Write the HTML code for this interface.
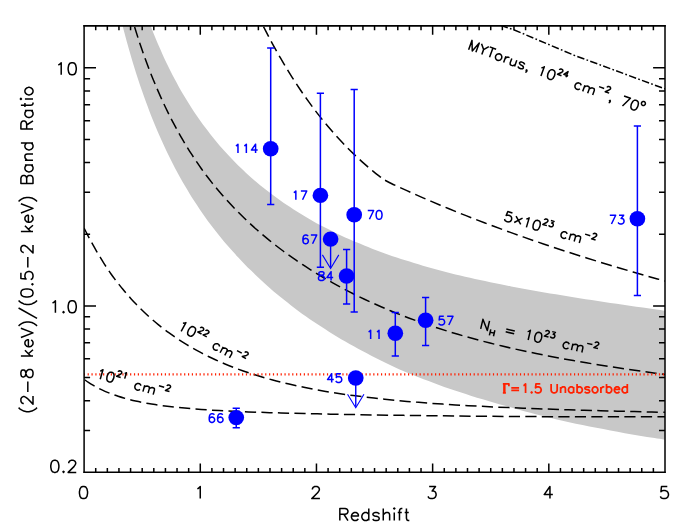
<!DOCTYPE html>
<html><head><meta charset="utf-8"><title>Band Ratio vs Redshift</title><style>html,body{margin:0;padding:0;background:#fff;font-family:"Liberation Sans",sans-serif}svg{display:block}</style></head><body>
<svg width="700" height="525" viewBox="0 0 700 525">
<rect width="700" height="525" fill="#fff"/>
<defs><clipPath id="cp"><rect x="84.10" y="25.90" width="580.90" height="446.40"/></clipPath><path id="g40" vector-effect="non-scaling-stroke" d="M11 7 L9 5 L7 2 L5 -2 L4 -7 L4 -11 L5 -16 L7 -20 L9 -23 L11 -25"/><path id="g41" vector-effect="non-scaling-stroke" d="M3 7 L5 5 L7 2 L9 -2 L10 -7 L10 -11 L9 -16 L7 -20 L5 -23 L3 -25"/><path id="g44" vector-effect="non-scaling-stroke" d="M4 4 L5 3 L6 1 L6 -1 L5 -2 L4 -1 L5 0 L6 -1"/><path id="g45" vector-effect="non-scaling-stroke" d="M4 -9 L22 -9"/><path id="g46" vector-effect="non-scaling-stroke" d="M6 -1 L5 0 L4 -1 L5 -2Z"/><path id="g47" vector-effect="non-scaling-stroke" d="M20 -25 L2 7"/><path id="g48" vector-effect="non-scaling-stroke" d="M6 -20 L4 -17 L3 -12 L3 -9 L4 -4 L6 -1 L9 0 L11 0 L14 -1 L16 -4 L17 -9 L17 -12 L16 -17 L14 -20 L11 -21 L9 -21Z"/><path id="g49" vector-effect="non-scaling-stroke" d="M11 0 L11 -21 L8 -18 L6 -17"/><path id="g50" vector-effect="non-scaling-stroke" d="M4 -16 L4 -17 L5 -19 L6 -20 L8 -21 L12 -21 L14 -20 L15 -19 L16 -17 L16 -15 L15 -13 L13 -10 L3 0 L17 0"/><path id="g51" vector-effect="non-scaling-stroke" d="M3 -4 L4 -2 L5 -1 L8 0 L11 0 L14 -1 L16 -3 L17 -6 L17 -8 L16 -11 L15 -12 L13 -13 L10 -13 L16 -21 L5 -21"/><path id="g52" vector-effect="non-scaling-stroke" d="M18 -7 L3 -7 L13 -21 L13 0"/><path id="g53" vector-effect="non-scaling-stroke" d="M3 -4 L4 -2 L5 -1 L8 0 L11 0 L14 -1 L16 -3 L17 -6 L17 -8 L16 -11 L14 -13 L11 -14 L8 -14 L5 -13 L4 -12 L5 -21 L15 -21"/><path id="g54" vector-effect="non-scaling-stroke" d="M16 -18 L15 -20 L12 -21 L10 -21 L7 -20 L5 -17 L4 -12 L4 -7 L5 -10 L7 -12 L10 -13 L11 -13 L14 -12 L16 -10 L17 -7 L17 -6 L16 -3 L14 -1 L11 0 L10 0 L7 -1 L5 -3 L4 -7"/><path id="g55" vector-effect="non-scaling-stroke" d="M3 -21 L17 -21 L7 0"/><path id="g56" vector-effect="non-scaling-stroke" d="M9 -12 L6 -11 L4 -9 L3 -7 L3 -4 L4 -2 L5 -1 L8 0 L12 0 L15 -1 L16 -2 L17 -4 L17 -7 L16 -9 L14 -11 L11 -12 L7 -13 L5 -14 L4 -16 L4 -18 L5 -20 L8 -21 L12 -21 L15 -20 L16 -18 L16 -16 L15 -14 L13 -13Z"/><path id="g61" vector-effect="non-scaling-stroke" d="M4 -12 L22 -12M4 -6 L22 -6"/><path id="g66" vector-effect="non-scaling-stroke" d="M4 -11 L13 -11 L16 -12 L17 -13 L18 -15 L18 -17 L17 -19 L16 -20 L13 -21 L4 -21 L4 0 L13 0 L16 -1 L17 -2 L18 -4 L18 -7 L17 -9 L16 -10 L13 -11"/><path id="g72" vector-effect="non-scaling-stroke" d="M18 -21 L18 0M4 -11 L18 -11M4 -21 L4 0"/><path id="g77" vector-effect="non-scaling-stroke" d="M4 0 L4 -21 L12 0 L20 -21 L20 0"/><path id="g78" vector-effect="non-scaling-stroke" d="M18 -21 L18 0 L4 -21 L4 0"/><path id="g82" vector-effect="non-scaling-stroke" d="M4 0 L4 -21 L13 -21 L16 -20 L17 -19 L18 -17 L18 -15 L17 -13 L16 -12 L13 -11 L4 -11M11 -11 L18 0"/><path id="g84" vector-effect="non-scaling-stroke" d="M1 -21 L15 -21M8 -21 L8 0"/><path id="g85" vector-effect="non-scaling-stroke" d="M18 -21 L18 -6 L17 -3 L15 -1 L12 0 L10 0 L7 -1 L5 -3 L4 -6 L4 -21"/><path id="g86" vector-effect="non-scaling-stroke" d="M17 -21 L9 0 L1 -21"/><path id="g89" vector-effect="non-scaling-stroke" d="M1 -21 L9 -11 L17 -21M9 -11 L9 0"/><path id="g97" vector-effect="non-scaling-stroke" d="M15 -3 L13 -1 L11 0 L8 0 L6 -1 L4 -3 L3 -6 L3 -8 L4 -11 L6 -13 L8 -14 L11 -14 L13 -13 L15 -11M15 -14 L15 0"/><path id="g98" vector-effect="non-scaling-stroke" d="M4 -21 L4 0M4 -3 L6 -1 L8 0 L11 0 L13 -1 L15 -3 L16 -6 L16 -8 L15 -11 L13 -13 L11 -14 L8 -14 L6 -13 L4 -11"/><path id="g99" vector-effect="non-scaling-stroke" d="M15 -11 L13 -13 L11 -14 L8 -14 L6 -13 L4 -11 L3 -8 L3 -6 L4 -3 L6 -1 L8 0 L11 0 L13 -1 L15 -3"/><path id="g100" vector-effect="non-scaling-stroke" d="M15 -21 L15 0M15 -3 L13 -1 L11 0 L8 0 L6 -1 L4 -3 L3 -6 L3 -8 L4 -11 L6 -13 L8 -14 L11 -14 L13 -13 L15 -11"/><path id="g101" vector-effect="non-scaling-stroke" d="M15 -3 L13 -1 L11 0 L8 0 L6 -1 L4 -3 L3 -6 L3 -8 L4 -11 L6 -13 L8 -14 L11 -14 L13 -13 L14 -12 L15 -10 L15 -8 L3 -8"/><path id="g102" vector-effect="non-scaling-stroke" d="M10 -21 L8 -21 L6 -20 L5 -17 L5 0M2 -14 L9 -14"/><path id="g104" vector-effect="non-scaling-stroke" d="M4 -21 L4 0M4 -10 L7 -13 L9 -14 L12 -14 L14 -13 L15 -10 L15 0"/><path id="g105" vector-effect="non-scaling-stroke" d="M4 -14 L4 0M4 -22 L3 -21 L4 -20 L5 -21Z"/><path id="g107" vector-effect="non-scaling-stroke" d="M4 -21 L4 0M14 -14 L4 -4M8 -8 L15 0"/><path id="g109" vector-effect="non-scaling-stroke" d="M26 0 L26 -10 L25 -13 L23 -14 L20 -14 L18 -13 L15 -10 L14 -13 L12 -14 L9 -14 L7 -13 L4 -10M15 -10 L15 0M4 -14 L4 0"/><path id="g110" vector-effect="non-scaling-stroke" d="M4 -10 L7 -13 L9 -14 L12 -14 L14 -13 L15 -10 L15 0M4 -14 L4 0"/><path id="g111" vector-effect="non-scaling-stroke" d="M8 -14 L11 -14 L13 -13 L15 -11 L16 -8 L16 -6 L15 -3 L13 -1 L11 0 L8 0 L6 -1 L4 -3 L3 -6 L3 -8 L4 -11 L6 -13Z"/><path id="g114" vector-effect="non-scaling-stroke" d="M4 -8 L5 -11 L7 -13 L9 -14 L12 -14M4 -14 L4 0"/><path id="g115" vector-effect="non-scaling-stroke" d="M3 -3 L4 -1 L7 0 L10 0 L13 -1 L14 -3 L14 -4 L13 -6 L11 -7 L6 -8 L4 -9 L3 -11 L4 -13 L7 -14 L10 -14 L13 -13 L14 -11"/><path id="g116" vector-effect="non-scaling-stroke" d="M5 -21 L5 -4 L6 -1 L8 0 L10 0M2 -14 L9 -14"/><path id="g117" vector-effect="non-scaling-stroke" d="M15 -4 L12 -1 L10 0 L7 0 L5 -1 L4 -4 L4 -14M15 -14 L15 0"/><path id="g215" vector-effect="non-scaling-stroke" d="M4 -16.6 L18 -2.6M18 -16.6 L4 -2.6"/><path id="g915" vector-effect="non-scaling-stroke" d="M1.5 -21 L15.5 -21 L15.5 -15.5M4.2 -21 L4.2 0M5.8 -21 L5.8 0M1.5 0 L8.5 0"/></defs>
<g clip-path="url(#cp)">
<path d="M148.00 18.73 C148.60 20.31 150.38 25.11 151.59 28.22 C152.79 31.34 154.01 34.39 155.24 37.40 C156.48 40.41 157.72 43.37 158.97 46.28 C160.23 49.20 161.50 52.06 162.78 54.88 C164.06 57.70 165.35 60.47 166.66 63.20 C167.97 65.93 169.29 68.61 170.62 71.25 C171.95 73.90 173.30 76.50 174.65 79.06 C176.01 81.62 177.39 84.15 178.77 86.63 C180.16 89.12 181.56 91.56 182.97 93.97 C184.38 96.39 185.81 98.76 187.25 101.10 C188.70 103.44 190.15 105.75 191.62 108.02 C193.09 110.29 194.58 112.53 196.08 114.74 C197.58 116.95 199.09 119.12 200.62 121.27 C202.15 123.41 203.70 125.53 205.26 127.61 C206.82 129.70 208.39 131.76 209.98 133.79 C211.57 135.82 213.18 137.82 214.80 139.79 C216.43 141.77 218.06 143.71 219.72 145.63 C221.37 147.56 223.05 149.45 224.73 151.32 C226.42 153.19 228.13 155.04 229.85 156.86 C231.57 158.68 233.31 160.48 235.06 162.26 C236.82 164.03 238.59 165.78 240.39 167.51 C242.18 169.24 243.98 170.95 245.81 172.64 C247.64 174.32 249.48 175.99 251.35 177.63 C253.21 179.27 255.09 180.89 256.99 182.49 C258.89 184.10 260.81 185.68 262.75 187.24 C264.69 188.80 266.64 190.34 268.62 191.86 C270.60 193.39 272.59 194.89 274.61 196.37 C276.62 197.86 278.66 199.32 280.71 200.77 C282.77 202.22 284.85 203.65 286.94 205.06 C289.04 206.47 291.16 207.86 293.30 209.24 C295.44 210.61 297.60 211.97 299.78 213.31 C301.96 214.65 304.16 215.97 306.39 217.28 C308.61 218.59 310.86 219.88 313.13 221.15 C315.40 222.42 317.69 223.68 320.00 224.92 C322.32 226.16 324.65 227.39 327.01 228.59 C329.37 229.80 331.76 231.00 334.17 232.17 C336.57 233.35 339.00 234.51 341.46 235.66 C343.91 236.80 346.39 237.93 348.90 239.05 C351.40 240.17 353.93 241.27 356.49 242.35 C359.04 243.44 361.62 244.51 364.22 245.56 C366.83 246.62 369.46 247.66 372.12 248.69 C374.77 249.72 377.46 250.73 380.17 251.73 C382.88 252.73 385.61 253.71 388.38 254.68 C391.14 255.66 393.93 256.61 396.75 257.56 C399.57 258.50 402.41 259.43 405.29 260.35 C408.16 261.27 411.07 262.17 414.00 263.07 C416.93 263.96 419.89 264.84 422.88 265.70 C425.87 266.57 428.89 267.42 431.94 268.27 C434.99 269.11 438.07 269.94 441.19 270.76 C444.30 271.58 447.44 272.39 450.61 273.18 C453.78 273.98 456.99 274.77 460.22 275.54 C463.46 276.32 466.73 277.08 470.03 277.83 C473.33 278.59 476.66 279.33 480.03 280.07 C483.39 280.80 486.79 281.53 490.23 282.25 C493.66 282.96 497.13 283.67 500.63 284.37 C504.13 285.07 507.67 285.76 511.24 286.45 C514.81 287.13 518.42 287.81 522.06 288.48 C525.70 289.15 529.38 289.81 533.09 290.47 C536.81 291.13 540.56 291.78 544.35 292.43 C548.14 293.08 551.96 293.72 555.83 294.36 C559.69 295.00 563.60 295.64 567.54 296.27 C571.48 296.90 575.46 297.53 579.48 298.16 C583.50 298.79 587.56 299.41 591.66 300.04 C595.76 300.67 599.90 301.29 604.08 301.92 C608.26 302.55 612.48 303.17 616.75 303.81 C621.01 304.44 625.32 305.07 629.67 305.70 C634.02 306.34 638.41 306.98 642.85 307.62 C647.29 308.27 651.77 308.92 656.29 309.57 C660.82 310.23 667.72 311.24 670.00 311.57 L670.00 440.54 C667.43 440.14 659.68 438.93 654.61 438.12 C649.53 437.31 644.52 436.51 639.55 435.69 C634.59 434.86 629.68 434.04 624.83 433.19 C619.97 432.34 615.17 431.47 610.42 430.58 C605.68 429.70 600.98 428.79 596.34 427.87 C591.69 426.95 587.10 426.01 582.56 425.06 C578.02 424.11 573.53 423.14 569.08 422.15 C564.64 421.16 560.25 420.16 555.90 419.13 C551.56 418.10 547.26 417.05 543.01 415.99 C538.76 414.93 534.56 413.86 530.40 412.76 C526.25 411.67 522.14 410.56 518.07 409.44 C514.00 408.31 509.98 407.15 506.01 406.02 C502.03 404.89 498.10 403.77 494.21 402.65 C490.32 401.53 486.48 400.45 482.67 399.32 C478.87 398.20 475.11 397.07 471.39 395.91 C467.67 394.74 463.99 393.54 460.35 392.33 C456.71 391.12 453.11 389.89 449.55 388.66 C445.99 387.42 442.47 386.16 438.99 384.89 C435.51 383.63 432.07 382.34 428.66 381.05 C425.26 379.77 421.89 378.49 418.56 377.19 C415.23 375.88 411.94 374.57 408.68 373.23 C405.42 371.90 402.20 370.58 399.02 369.16 C395.83 367.75 392.68 366.24 389.57 364.75 C386.45 363.27 383.37 361.77 380.32 360.27 C377.27 358.76 374.26 357.23 371.28 355.70 C368.30 354.16 365.35 352.61 362.44 351.05 C359.52 349.49 356.64 347.91 353.79 346.32 C350.94 344.73 348.12 343.13 345.33 341.51 C342.54 339.90 339.78 338.27 337.05 336.63 C334.32 334.98 331.63 333.33 328.96 331.66 C326.29 329.99 323.65 328.30 321.04 326.61 C318.43 324.91 315.85 323.19 313.30 321.47 C310.75 319.74 308.23 318.00 305.73 316.24 C303.23 314.48 300.76 312.71 298.32 310.90 C295.88 309.10 293.47 307.26 291.08 305.42 C288.69 303.57 286.33 301.72 283.99 299.84 C281.66 297.96 279.35 296.07 277.06 294.16 C274.78 292.25 272.52 290.32 270.29 288.38 C268.05 286.43 265.84 284.47 263.66 282.49 C261.47 280.51 259.31 278.51 257.17 276.49 C255.03 274.46 252.92 272.42 250.83 270.37 C248.74 268.31 246.67 266.25 244.63 264.15 C242.58 262.06 240.56 259.95 238.56 257.82 C236.56 255.68 234.58 253.53 232.63 251.35 C230.67 249.16 228.74 246.96 226.82 244.73 C224.91 242.50 223.02 240.25 221.15 237.97 C219.28 235.68 217.43 233.38 215.60 231.04 C213.76 228.71 211.96 226.34 210.16 223.95 C208.37 221.56 206.60 219.14 204.85 216.69 C203.10 214.23 201.37 211.76 199.66 209.23 C197.95 206.71 196.25 204.14 194.58 201.55 C192.90 198.95 191.25 196.32 189.61 193.65 C187.97 190.99 186.35 188.29 184.75 185.55 C183.15 182.80 181.56 180.03 179.99 177.21 C178.43 174.39 176.88 171.54 175.34 168.64 C173.81 165.74 172.30 162.80 170.80 159.82 C169.30 156.83 167.82 153.81 166.35 150.73 C164.88 147.66 163.43 144.54 162.00 141.37 C160.56 138.20 159.15 134.98 157.74 131.71 C156.34 128.44 154.95 125.12 153.58 121.74 C152.21 118.37 150.85 114.94 149.51 111.45 C148.17 107.97 146.84 104.43 145.53 100.82 C144.22 97.22 142.92 93.56 141.64 89.84 C140.35 86.11 139.08 82.33 137.83 78.47 C136.57 74.62 135.33 70.70 134.10 66.72 C132.87 62.73 131.66 58.68 130.46 54.55 C129.26 50.42 128.07 46.22 126.89 41.94 C125.72 37.67 124.56 33.32 123.41 28.88 C122.26 24.45 120.57 17.60 120.00 15.35Z" fill="#c8c8c8"/>
<g fill="none" stroke="#000" stroke-width="1.5" stroke-dasharray="11.2 5.3">
<path d="M131.00 14.74 C131.58 16.71 133.31 22.69 134.49 26.55 C135.66 30.41 136.85 34.20 138.05 37.91 C139.25 41.62 140.46 45.26 141.69 48.84 C142.91 52.41 144.15 55.91 145.40 59.35 C146.65 62.80 147.92 66.17 149.20 69.49 C150.48 72.81 151.77 76.06 153.07 79.26 C154.38 82.46 155.70 85.60 157.03 88.69 C158.37 91.79 159.71 94.82 161.08 97.83 C162.44 100.83 163.81 103.81 165.21 106.73 C166.60 109.64 168.00 112.51 169.42 115.34 C170.84 118.17 172.28 120.95 173.73 123.69 C175.18 126.43 176.65 129.13 178.13 131.78 C179.62 134.44 181.11 137.06 182.63 139.64 C184.14 142.23 185.67 144.77 187.22 147.28 C188.77 149.79 190.33 152.27 191.91 154.71 C193.49 157.15 195.08 159.56 196.70 161.94 C198.31 164.32 199.94 166.67 201.59 168.98 C203.24 171.29 204.90 173.57 206.58 175.80 C208.27 178.03 209.97 180.20 211.69 182.35 C213.41 184.51 215.14 186.64 216.90 188.74 C218.66 190.84 220.43 192.92 222.22 194.98 C224.02 197.03 225.83 199.06 227.66 201.07 C229.49 203.08 231.34 205.06 233.22 207.02 C235.09 208.98 236.98 210.92 238.89 212.84 C240.80 214.76 242.73 216.66 244.68 218.53 C246.63 220.41 248.61 222.27 250.60 224.11 C252.59 225.94 254.61 227.76 256.64 229.56 C258.68 231.36 260.74 233.14 262.82 234.90 C264.90 236.66 267.00 238.40 269.12 240.12 C271.25 241.85 273.39 243.55 275.56 245.24 C277.73 246.93 279.92 248.60 282.14 250.25 C284.36 251.91 286.60 253.54 288.86 255.16 C291.12 256.78 293.41 258.39 295.72 259.97 C298.03 261.56 300.37 263.13 302.73 264.68 C305.09 266.24 307.48 267.78 309.89 269.30 C312.30 270.82 314.74 272.33 317.20 273.82 C319.67 275.31 322.15 276.78 324.67 278.24 C327.19 279.70 329.73 281.15 332.30 282.59 C334.87 284.03 337.46 285.47 340.09 286.89 C342.71 288.30 345.37 289.71 348.05 291.09 C350.73 292.48 353.44 293.85 356.17 295.21 C358.91 296.56 361.68 297.90 364.48 299.23 C367.27 300.55 370.10 301.86 372.96 303.16 C375.81 304.45 378.70 305.73 381.62 306.99 C384.53 308.25 387.48 309.50 390.46 310.73 C393.44 311.96 396.45 313.18 399.50 314.38 C402.54 315.58 405.62 316.77 408.72 317.94 C411.83 319.10 414.97 320.26 418.15 321.40 C421.33 322.54 424.53 323.66 427.78 324.77 C431.02 325.87 434.30 326.97 437.61 328.04 C440.92 329.12 444.27 330.18 447.65 331.23 C451.04 332.27 454.45 333.30 457.91 334.32 C461.37 335.33 464.86 336.34 468.39 337.32 C471.92 338.31 475.48 339.28 479.09 340.23 C482.69 341.19 486.34 342.13 490.02 343.06 C493.70 343.99 497.42 344.90 501.18 345.80 C504.94 346.70 508.74 347.58 512.58 348.45 C516.42 349.32 520.31 350.18 524.23 351.03 C528.15 351.87 532.12 352.70 536.12 353.52 C540.13 354.34 544.18 355.15 548.27 355.94 C552.37 356.74 556.50 357.52 560.68 358.29 C564.86 359.06 569.09 359.82 573.36 360.58 C577.63 361.33 581.94 362.06 586.30 362.80 C590.66 363.53 595.07 364.25 599.53 364.96 C603.98 365.67 608.48 366.38 613.03 367.07 C617.58 367.77 622.18 368.46 626.82 369.14 C631.47 369.83 636.17 370.50 640.91 371.18 C645.66 371.85 650.45 372.52 655.30 373.18 C660.15 373.85 667.55 374.84 670.00 375.17" stroke-dashoffset="3.8"/>
<path d="M258.00 15.50 C258.60 16.73 260.41 20.45 261.62 22.89 C262.84 25.34 264.06 27.76 265.29 30.16 C266.53 32.56 267.76 34.94 269.01 37.30 C270.26 39.66 271.51 42.00 272.77 44.32 C274.03 46.64 275.30 48.94 276.58 51.22 C277.86 53.50 279.15 55.75 280.44 57.99 C281.73 60.23 283.03 62.44 284.34 64.64 C285.65 66.83 286.97 69.01 288.30 71.16 C289.62 73.32 290.96 75.45 292.30 77.56 C293.64 79.67 294.99 81.77 296.35 83.84 C297.71 85.91 299.08 87.96 300.46 89.99 C301.83 92.02 303.22 94.03 304.61 96.02 C306.01 98.01 307.41 99.97 308.82 101.92 C310.23 103.87 311.65 105.80 313.08 107.70 C314.51 109.61 315.95 111.49 317.39 113.36 C318.84 115.22 320.29 117.07 321.76 118.89 C323.22 120.72 324.70 122.52 326.18 124.30 C327.66 126.08 329.16 127.85 330.66 129.59 C332.16 131.33 333.67 133.05 335.19 134.75 C336.71 136.45 338.24 138.13 339.78 139.78 C341.32 141.44 342.87 143.08 344.43 144.70 C345.98 146.32 347.55 147.91 349.13 149.49 C350.71 151.06 352.30 152.62 353.89 154.15 C355.49 155.69 357.10 157.20 358.72 158.69 C360.33 160.19 361.96 161.66 363.60 163.11 C365.24 164.56 366.89 166.00 368.54 167.41 C370.20 168.82 371.87 170.21 373.55 171.58 C375.23 172.95 376.92 174.29 378.62 175.62 C380.32 176.95 382.89 178.89 383.75 179.54 C385.01 180.20 388.78 182.22 391.33 183.47 C393.88 184.72 396.45 185.87 399.05 187.07 C401.64 188.26 404.26 189.46 406.90 190.66 C409.55 191.85 412.21 193.05 414.90 194.24 C417.59 195.43 420.31 196.63 423.05 197.82 C425.79 199.01 428.55 200.21 431.34 201.40 C434.13 202.59 436.95 203.78 439.79 204.97 C442.63 206.16 445.50 207.35 448.39 208.54 C451.28 209.72 454.20 210.91 457.15 212.10 C460.09 213.28 463.06 214.47 466.06 215.66 C469.06 216.84 472.09 218.02 475.14 219.21 C478.20 220.39 481.28 221.57 484.39 222.76 C487.50 223.94 490.63 225.12 493.80 226.30 C496.96 227.48 500.16 228.66 503.38 229.84 C506.61 231.02 509.86 232.20 513.14 233.37 C516.42 234.55 519.74 235.73 523.08 236.90 C526.42 238.08 529.79 239.26 533.20 240.43 C536.60 241.60 540.03 242.78 543.50 243.95 C546.96 245.12 550.46 246.30 553.99 247.47 C557.52 248.64 561.08 249.81 564.67 250.98 C568.26 252.15 571.89 253.32 575.55 254.49 C579.20 255.66 582.89 256.82 586.62 257.99 C590.34 259.16 594.10 260.32 597.90 261.49 C601.69 262.65 605.51 263.82 609.38 264.98 C613.24 266.15 617.14 267.31 621.07 268.47 C625.00 269.63 628.97 270.79 632.97 271.96 C636.98 273.12 641.01 274.28 645.09 275.44 C649.17 276.59 653.28 277.75 657.43 278.91 C661.58 280.07 667.91 281.80 670.00 282.38" stroke-dashoffset="4"/>
<path d="M84.10 228.08 C84.61 229.09 86.13 232.12 87.17 234.12 C88.21 236.12 89.25 238.11 90.32 240.08 C91.38 242.06 92.46 244.02 93.55 245.96 C94.64 247.91 95.75 249.84 96.87 251.76 C97.99 253.68 99.13 255.58 100.28 257.47 C101.43 259.36 102.59 261.23 103.77 263.09 C104.95 264.95 106.15 266.81 107.36 268.62 C108.57 270.43 109.80 272.21 111.04 273.95 C112.29 275.70 113.55 277.40 114.82 279.10 C116.10 280.80 117.39 282.48 118.70 284.15 C120.02 285.81 121.34 287.46 122.69 289.09 C124.03 290.72 125.39 292.34 126.78 293.93 C128.16 295.53 129.55 297.11 130.97 298.67 C132.39 300.23 133.82 301.77 135.28 303.30 C136.73 304.83 138.21 306.33 139.70 307.83 C141.19 309.32 142.70 310.79 144.24 312.24 C145.77 313.70 147.32 315.13 148.89 316.55 C150.47 317.97 152.06 319.37 153.67 320.75 C155.29 322.14 156.92 323.50 158.58 324.85 C160.24 326.19 161.92 327.52 163.62 328.83 C165.32 330.14 167.04 331.43 168.79 332.70 C170.53 333.98 172.30 335.23 174.09 336.47 C175.88 337.70 177.70 338.92 179.54 340.12 C181.38 341.32 183.24 342.50 185.13 343.67 C187.01 344.83 188.93 345.97 190.86 347.10 C192.80 348.23 194.76 349.34 196.75 350.43 C198.74 351.52 200.76 352.59 202.80 353.65 C204.84 354.70 206.91 355.74 209.00 356.76 C211.10 357.77 213.22 358.77 215.37 359.76 C217.52 360.74 219.70 361.71 221.90 362.65 C224.11 363.60 226.35 364.53 228.61 365.44 C230.88 366.36 233.17 367.25 235.50 368.13 C237.83 369.01 240.18 369.87 242.57 370.71 C244.95 371.55 247.37 372.38 249.82 373.19 C252.27 374.00 254.75 374.79 257.27 375.57 C259.78 376.34 262.33 377.10 264.91 377.85 C267.49 378.59 270.11 379.32 272.76 380.03 C275.40 380.74 278.09 381.43 280.81 382.11 C283.53 382.79 286.28 383.46 289.07 384.10 C291.86 384.75 294.69 385.38 297.55 386.00 C300.42 386.62 303.32 387.22 306.26 387.81 C309.20 388.39 312.18 388.97 315.20 389.52 C318.22 390.08 321.27 390.63 324.37 391.16 C327.47 391.69 330.61 392.20 333.79 392.70 C336.97 393.20 340.19 393.69 343.45 394.17 C346.71 394.64 350.02 395.10 353.37 395.55 C356.72 396.00 360.11 396.44 363.55 396.86 C366.99 397.28 370.47 397.69 374.00 398.09 C377.53 398.49 381.11 398.88 384.73 399.26 C388.35 399.63 392.02 400.00 395.74 400.35 C399.46 400.70 403.22 401.04 407.04 401.38 C410.85 401.71 414.72 402.03 418.64 402.34 C422.55 402.65 426.52 402.95 430.54 403.25 C434.56 403.54 438.63 403.82 442.76 404.09 C446.89 404.37 451.07 404.63 455.30 404.89 C459.54 405.15 463.83 405.39 468.18 405.63 C472.53 405.88 476.93 406.11 481.39 406.33 C485.85 406.56 490.37 406.78 494.95 406.99 C499.53 407.20 504.17 407.41 508.88 407.61 C513.58 407.81 518.34 408.00 523.16 408.19 C527.99 408.38 532.88 408.56 537.83 408.74 C542.78 408.92 547.80 409.09 552.88 409.26 C557.97 409.43 563.12 409.60 568.33 409.76 C573.55 409.92 578.84 410.08 584.19 410.24 C589.55 410.40 594.97 410.55 600.47 410.71 C605.97 410.86 611.54 411.01 617.18 411.16 C622.82 411.31 628.54 411.46 634.33 411.60 C640.12 411.75 645.99 411.90 651.93 412.05 C657.88 412.20 666.99 412.42 670.00 412.49" stroke-dashoffset="0"/>
<path d="M84.10 379.33 C84.82 379.83 86.97 381.38 88.44 382.36 C89.92 383.33 91.42 384.26 92.95 385.16 C94.48 386.06 96.04 386.93 97.63 387.76 C99.21 388.59 100.83 389.39 102.48 390.15 C104.12 390.92 105.80 391.66 107.51 392.36 C109.22 393.07 110.96 393.75 112.73 394.40 C114.50 395.05 116.31 395.67 118.14 396.27 C119.98 396.86 121.85 397.43 123.76 397.98 C125.67 398.53 127.61 399.05 129.59 399.56 C131.57 400.06 133.58 400.54 135.63 401.00 C137.69 401.45 139.78 401.89 141.91 402.31 C144.04 402.73 146.20 403.13 148.41 403.51 C150.62 403.90 152.87 404.26 155.16 404.61 C157.45 404.96 159.79 405.29 162.16 405.61 C164.54 405.93 166.96 406.23 169.43 406.52 C171.89 406.81 174.40 407.09 176.96 407.36 C179.52 407.62 182.13 407.87 184.78 408.11 C187.43 408.35 190.14 408.58 192.89 408.80 C195.64 409.02 198.45 409.23 201.30 409.43 C204.16 409.63 207.07 409.83 210.03 410.01 C212.99 410.19 216.01 410.37 219.08 410.54 C222.16 410.71 225.29 410.87 228.47 411.02 C231.66 411.18 234.91 411.33 238.22 411.47 C241.53 411.61 244.89 411.75 248.33 411.88 C251.76 412.02 255.25 412.14 258.81 412.27 C262.37 412.39 266.00 412.51 269.69 412.63 C273.38 412.74 277.14 412.85 280.97 412.96 C284.81 413.07 288.71 413.18 292.68 413.28 C296.66 413.38 300.70 413.48 304.82 413.58 C308.95 413.68 313.15 413.77 317.42 413.87 C321.70 413.96 326.05 414.05 330.49 414.14 C334.93 414.23 339.45 414.32 344.05 414.40 C348.65 414.49 353.34 414.58 358.12 414.66 C362.89 414.74 367.75 414.82 372.71 414.90 C377.66 414.98 382.70 415.06 387.84 415.14 C392.98 415.21 398.21 415.29 403.55 415.36 C408.88 415.44 414.31 415.51 419.84 415.58 C425.37 415.65 431.00 415.72 436.74 415.78 C442.47 415.85 448.31 415.92 454.27 415.98 C460.22 416.04 466.28 416.10 472.45 416.16 C478.63 416.22 484.91 416.27 491.32 416.32 C497.73 416.38 504.25 416.43 510.89 416.47 C517.54 416.52 524.30 416.56 531.20 416.60 C538.09 416.63 545.11 416.67 552.26 416.70 C559.41 416.73 566.69 416.75 574.11 416.77 C581.53 416.79 589.08 416.81 596.78 416.82 C604.48 416.82 612.31 416.83 620.30 416.82 C628.28 416.82 636.41 416.81 644.69 416.79 C652.98 416.77 665.78 416.72 670.00 416.71" stroke-dashoffset="-1.3"/>
</g>
<path d="M497.00 24.20 L513.70 29.70 L574.00 55.20 L665.00 88.90" fill="none" stroke="#000" stroke-width="1.5" stroke-dasharray="7.5 2.3 1.7 2.3" stroke-dashoffset="10.02"/>
<path d="M79.89 374.45 H665.00" stroke="#ff2000" stroke-width="2.2" stroke-dasharray="1.2 2.66" fill="none"/>
</g>
<g stroke="#0000ff" stroke-width="1.5" fill="none">
<path d="M270.70 48.00 V204.40 M267.10 48.00 h7.2 M267.10 204.40 h7.2"/>
<path d="M320.40 93.25 V267.20 M316.80 93.25 h7.2 M316.80 267.20 h7.2"/>
<path d="M330.60 239.10 V267.50" stroke-width="1.4"/><path d="M322.40 254.90 L330.60 268.50 L338.80 254.90" stroke-width="1.1"/>
<path d="M346.60 249.40 V304.00 M343.00 249.40 h7.2 M343.00 304.00 h7.2"/>
<path d="M354.20 89.50 V312.00 M350.60 89.50 h7.2 M350.60 312.00 h7.2"/>
<path d="M395.30 312.60 V356.00 M391.70 312.60 h7.2 M391.70 356.00 h7.2"/>
<path d="M425.60 297.40 V345.50 M422.00 297.40 h7.2 M422.00 345.50 h7.2"/>
<path d="M355.75 378.00 V406.80" stroke-width="1.4"/><path d="M347.55 394.20 L355.75 407.80 L363.95 394.20" stroke-width="1.1"/>
<path d="M236.25 408.20 V427.80 M232.65 408.20 h7.2 M232.65 427.80 h7.2"/>
<path d="M637.40 126.00 V295.40 M633.80 126.00 h7.2 M633.80 295.40 h7.2"/>
</g>
<ellipse cx="270.70" cy="148.75" rx="7.85" ry="7.7" fill="#0000ff"/>
<ellipse cx="320.40" cy="195.40" rx="7.85" ry="7.7" fill="#0000ff"/>
<ellipse cx="330.60" cy="239.10" rx="7.85" ry="7.7" fill="#0000ff"/>
<ellipse cx="346.60" cy="276.00" rx="7.85" ry="7.7" fill="#0000ff"/>
<ellipse cx="354.20" cy="214.70" rx="7.85" ry="7.7" fill="#0000ff"/>
<ellipse cx="395.30" cy="333.25" rx="7.85" ry="7.7" fill="#0000ff"/>
<ellipse cx="425.60" cy="320.20" rx="7.85" ry="7.7" fill="#0000ff"/>
<ellipse cx="355.75" cy="378.00" rx="7.85" ry="7.7" fill="#0000ff"/>
<ellipse cx="236.25" cy="417.60" rx="7.85" ry="7.7" fill="#0000ff"/>
<ellipse cx="637.40" cy="218.80" rx="7.85" ry="7.7" fill="#0000ff"/>
<path d="M83.40 25.95 H665.70" stroke="#000" stroke-width="1.7"/><path d="M83.40 472.30 H665.70" stroke="#000" stroke-width="1.5"/>
<path d="M84.10 25.10 V473.00 M665.00 25.10 V473.00 M95.72 25.90 v4.30 M95.72 472.30 v-4.30 M107.34 25.90 v4.30 M107.34 472.30 v-4.30 M118.95 25.90 v4.30 M118.95 472.30 v-4.30 M130.57 25.90 v4.30 M130.57 472.30 v-4.30 M142.19 25.90 v4.30 M142.19 472.30 v-4.30 M153.81 25.90 v4.30 M153.81 472.30 v-4.30 M165.43 25.90 v4.30 M165.43 472.30 v-4.30 M177.04 25.90 v4.30 M177.04 472.30 v-4.30 M188.66 25.90 v4.30 M188.66 472.30 v-4.30 M200.28 25.90 v8.90 M200.28 472.30 v-8.90 M211.90 25.90 v4.30 M211.90 472.30 v-4.30 M223.52 25.90 v4.30 M223.52 472.30 v-4.30 M235.13 25.90 v4.30 M235.13 472.30 v-4.30 M246.75 25.90 v4.30 M246.75 472.30 v-4.30 M258.37 25.90 v4.30 M258.37 472.30 v-4.30 M269.99 25.90 v4.30 M269.99 472.30 v-4.30 M281.61 25.90 v4.30 M281.61 472.30 v-4.30 M293.22 25.90 v4.30 M293.22 472.30 v-4.30 M304.84 25.90 v4.30 M304.84 472.30 v-4.30 M316.46 25.90 v8.90 M316.46 472.30 v-8.90 M328.08 25.90 v4.30 M328.08 472.30 v-4.30 M339.70 25.90 v4.30 M339.70 472.30 v-4.30 M351.31 25.90 v4.30 M351.31 472.30 v-4.30 M362.93 25.90 v4.30 M362.93 472.30 v-4.30 M374.55 25.90 v4.30 M374.55 472.30 v-4.30 M386.17 25.90 v4.30 M386.17 472.30 v-4.30 M397.79 25.90 v4.30 M397.79 472.30 v-4.30 M409.40 25.90 v4.30 M409.40 472.30 v-4.30 M421.02 25.90 v4.30 M421.02 472.30 v-4.30 M432.64 25.90 v8.90 M432.64 472.30 v-8.90 M444.26 25.90 v4.30 M444.26 472.30 v-4.30 M455.88 25.90 v4.30 M455.88 472.30 v-4.30 M467.49 25.90 v4.30 M467.49 472.30 v-4.30 M479.11 25.90 v4.30 M479.11 472.30 v-4.30 M490.73 25.90 v4.30 M490.73 472.30 v-4.30 M502.35 25.90 v4.30 M502.35 472.30 v-4.30 M513.97 25.90 v4.30 M513.97 472.30 v-4.30 M525.58 25.90 v4.30 M525.58 472.30 v-4.30 M537.20 25.90 v4.30 M537.20 472.30 v-4.30 M548.82 25.90 v8.90 M548.82 472.30 v-8.90 M560.44 25.90 v4.30 M560.44 472.30 v-4.30 M572.06 25.90 v4.30 M572.06 472.30 v-4.30 M583.67 25.90 v4.30 M583.67 472.30 v-4.30 M595.29 25.90 v4.30 M595.29 472.30 v-4.30 M606.91 25.90 v4.30 M606.91 472.30 v-4.30 M618.53 25.90 v4.30 M618.53 472.30 v-4.30 M630.15 25.90 v4.30 M630.15 472.30 v-4.30 M641.76 25.90 v4.30 M641.76 472.30 v-4.30 M653.38 25.90 v4.30 M653.38 472.30 v-4.30 M84.10 430.38 h6.00 M665.00 430.38 h-6.00 M84.10 400.64 h6.00 M665.00 400.64 h-6.00 M84.10 377.57 h6.00 M665.00 377.57 h-6.00 M84.10 358.72 h6.00 M665.00 358.72 h-6.00 M84.10 342.78 h6.00 M665.00 342.78 h-6.00 M84.10 328.97 h6.00 M665.00 328.97 h-6.00 M84.10 316.79 h6.00 M665.00 316.79 h-6.00 M84.10 305.90 h11.90 M665.00 305.90 h-11.90 M84.10 234.23 h6.00 M665.00 234.23 h-6.00 M84.10 192.31 h6.00 M665.00 192.31 h-6.00 M84.10 162.57 h6.00 M665.00 162.57 h-6.00 M84.10 139.50 h6.00 M665.00 139.50 h-6.00 M84.10 120.65 h6.00 M665.00 120.65 h-6.00 M84.10 104.71 h6.00 M665.00 104.71 h-6.00 M84.10 90.90 h6.00 M665.00 90.90 h-6.00 M84.10 78.72 h6.00 M665.00 78.72 h-6.00 M84.10 67.83 h11.90 M665.00 67.83 h-11.90" fill="none" stroke="#000" stroke-width="1.5" stroke-linejoin="miter"/>
<g fill="none" stroke-linecap="butt" stroke-linejoin="round">
<g transform="translate(83.50 498.60) rotate(0.00) scale(0.5791 0.5762)" stroke="#000" stroke-width="1.50"><use href="#g48" x="-10.00" y="0.00"/></g>
<g transform="translate(199.68 498.60) rotate(0.00) scale(0.5791 0.5762)" stroke="#000" stroke-width="1.50"><use href="#g49" x="-10.00" y="0.00"/></g>
<g transform="translate(315.86 498.60) rotate(0.00) scale(0.5791 0.5762)" stroke="#000" stroke-width="1.50"><use href="#g50" x="-10.00" y="0.00"/></g>
<g transform="translate(432.04 498.60) rotate(0.00) scale(0.5791 0.5762)" stroke="#000" stroke-width="1.50"><use href="#g51" x="-10.00" y="0.00"/></g>
<g transform="translate(548.22 498.60) rotate(0.00) scale(0.5791 0.5762)" stroke="#000" stroke-width="1.50"><use href="#g52" x="-10.00" y="0.00"/></g>
<g transform="translate(664.40 498.60) rotate(0.00) scale(0.5791 0.5762)" stroke="#000" stroke-width="1.50"><use href="#g53" x="-10.00" y="0.00"/></g>
<g transform="translate(78.00 74.80) rotate(0.00) scale(0.5791 0.5762)" stroke="#000" stroke-width="1.50"><use href="#g49" x="-40.00" y="0.00"/><use href="#g48" x="-20.00" y="0.00"/></g>
<g transform="translate(78.00 312.80) rotate(0.00) scale(0.5791 0.5762)" stroke="#000" stroke-width="1.50"><use href="#g49" x="-50.00" y="0.00"/><use href="#g46" x="-30.00" y="0.00"/><use href="#g48" x="-20.00" y="0.00"/></g>
<g transform="translate(78.00 472.40) rotate(0.00) scale(0.5791 0.5762)" stroke="#000" stroke-width="1.50"><use href="#g48" x="-50.00" y="0.00"/><use href="#g46" x="-30.00" y="0.00"/><use href="#g50" x="-20.00" y="0.00"/></g>
<g transform="translate(374.00 520.60) rotate(0.00) scale(0.5791 0.5762)" stroke="#000" stroke-width="1.50"><use href="#g82" x="-63.00" y="0.00"/><use href="#g101" x="-42.00" y="0.00"/><use href="#g100" x="-24.00" y="0.00"/><use href="#g115" x="-5.00" y="0.00"/><use href="#g104" x="12.00" y="0.00"/><use href="#g105" x="31.00" y="0.00"/><use href="#g102" x="39.00" y="0.00"/><use href="#g116" x="51.00" y="0.00"/></g>
<g transform="translate(33.00 249.80) rotate(-90.00) scale(0.5791 0.5762)" stroke="#000" stroke-width="1.50"><use href="#g40" x="-283.50" y="0.00"/><use href="#g50" x="-269.50" y="0.00"/><use href="#g45" x="-249.50" y="0.00"/><use href="#g56" x="-223.50" y="0.00"/><use href="#g107" x="-187.50" y="0.00"/><use href="#g101" x="-170.50" y="0.00"/><use href="#g86" x="-152.50" y="0.00"/><use href="#g41" x="-134.50" y="0.00"/><use href="#g47" x="-120.50" y="0.00"/><use href="#g40" x="-98.50" y="0.00"/><use href="#g48" x="-84.50" y="0.00"/><use href="#g46" x="-64.50" y="0.00"/><use href="#g53" x="-54.50" y="0.00"/><use href="#g45" x="-34.50" y="0.00"/><use href="#g50" x="-8.50" y="0.00"/><use href="#g107" x="27.50" y="0.00"/><use href="#g101" x="44.50" y="0.00"/><use href="#g86" x="62.50" y="0.00"/><use href="#g41" x="80.50" y="0.00"/><use href="#g66" x="110.50" y="0.00"/><use href="#g97" x="131.50" y="0.00"/><use href="#g110" x="150.50" y="0.00"/><use href="#g100" x="169.50" y="0.00"/><use href="#g82" x="204.50" y="0.00"/><use href="#g97" x="225.50" y="0.00"/><use href="#g116" x="244.50" y="0.00"/><use href="#g105" x="256.50" y="0.00"/><use href="#g111" x="264.50" y="0.00"/></g>
<g transform="translate(258.50 153.00) rotate(0.00) scale(0.4190 0.4190)" stroke="#0000ff" stroke-width="1.50"><use href="#g49" x="-60.00" y="0.00"/><use href="#g49" x="-40.00" y="0.00"/><use href="#g52" x="-20.00" y="0.00"/></g>
<g transform="translate(308.00 199.80) rotate(0.00) scale(0.4190 0.4190)" stroke="#0000ff" stroke-width="1.50"><use href="#g49" x="-40.00" y="0.00"/><use href="#g55" x="-20.00" y="0.00"/></g>
<g transform="translate(318.00 243.80) rotate(0.00) scale(0.4190 0.4190)" stroke="#0000ff" stroke-width="1.50"><use href="#g54" x="-40.00" y="0.00"/><use href="#g55" x="-20.00" y="0.00"/></g>
<g transform="translate(334.00 280.50) rotate(0.00) scale(0.4190 0.4190)" stroke="#0000ff" stroke-width="1.50"><use href="#g56" x="-40.00" y="0.00"/><use href="#g52" x="-20.00" y="0.00"/></g>
<g transform="translate(366.50 219.30) rotate(0.00) scale(0.4190 0.4190)" stroke="#0000ff" stroke-width="1.50"><use href="#g55" x="0.00" y="0.00"/><use href="#g48" x="20.00" y="0.00"/></g>
<g transform="translate(382.80 339.00) rotate(0.00) scale(0.4190 0.4190)" stroke="#0000ff" stroke-width="1.50"><use href="#g49" x="-40.00" y="0.00"/><use href="#g49" x="-20.00" y="0.00"/></g>
<g transform="translate(437.50 325.00) rotate(0.00) scale(0.4190 0.4190)" stroke="#0000ff" stroke-width="1.50"><use href="#g53" x="0.00" y="0.00"/><use href="#g55" x="20.00" y="0.00"/></g>
<g transform="translate(343.00 382.50) rotate(0.00) scale(0.4190 0.4190)" stroke="#0000ff" stroke-width="1.50"><use href="#g52" x="-40.00" y="0.00"/><use href="#g53" x="-20.00" y="0.00"/></g>
<g transform="translate(224.30 422.50) rotate(0.00) scale(0.4190 0.4190)" stroke="#0000ff" stroke-width="1.50"><use href="#g54" x="-40.00" y="0.00"/><use href="#g54" x="-20.00" y="0.00"/></g>
<g transform="translate(625.30 224.00) rotate(0.00) scale(0.4190 0.4190)" stroke="#0000ff" stroke-width="1.50"><use href="#g55" x="-40.00" y="0.00"/><use href="#g51" x="-20.00" y="0.00"/></g>
<g transform="translate(466.80 49.00) rotate(20.09) scale(0.4842 0.4714)" stroke="#000" stroke-width="1.50"><use href="#g77" x="0.00" y="0.00"/><use href="#g89" x="24.00" y="0.00"/><use href="#g84" x="42.00" y="0.00"/><use href="#g111" x="58.00" y="0.00"/><use href="#g114" x="77.00" y="0.00"/><use href="#g117" x="90.00" y="0.00"/><use href="#g115" x="109.00" y="0.00"/><use href="#g44" x="126.00" y="0.00"/><use href="#g49" x="152.00" y="0.00"/><use href="#g48" x="172.00" y="0.00"/><use href="#g50" transform="translate(192.00 -15.80) scale(0.620)"/><use href="#g52" transform="translate(204.40 -15.80) scale(0.620)"/><use href="#g99" x="232.80" y="0.00"/><use href="#g109" x="250.80" y="0.00"/><use href="#g45" transform="translate(280.80 -15.80) scale(0.620)"/><use href="#g50" transform="translate(296.92 -15.80) scale(0.620)"/><use href="#g44" x="309.32" y="0.00"/><use href="#g55" x="335.32" y="0.00"/><use href="#g48" x="355.32" y="0.00"/><use href="#g111" transform="translate(375.32 -15.80) scale(0.620)"/></g>
<g transform="translate(502.70 220.40) rotate(16.40) scale(0.4842 0.4714)" stroke="#000" stroke-width="1.50"><use href="#g53" x="0.00" y="0.00"/><use href="#g215" x="20.00" y="0.00"/><use href="#g49" x="40.00" y="0.00"/><use href="#g48" x="60.00" y="0.00"/><use href="#g50" transform="translate(80.00 -15.80) scale(0.620)"/><use href="#g51" transform="translate(92.40 -15.80) scale(0.620)"/><use href="#g99" x="120.80" y="0.00"/><use href="#g109" x="138.80" y="0.00"/><use href="#g45" transform="translate(168.80 -15.80) scale(0.620)"/><use href="#g50" transform="translate(184.92 -15.80) scale(0.620)"/></g>
<g transform="translate(478.80 328.50) rotate(13.10) scale(0.4842 0.4714)" stroke="#000" stroke-width="1.50"><use href="#g78" x="0.00" y="0.00"/><use href="#g72" transform="translate(22.00 9.00) scale(0.620)"/><use href="#g61" x="51.64" y="0.00"/><use href="#g49" x="93.64" y="0.00"/><use href="#g48" x="113.64" y="0.00"/><use href="#g50" transform="translate(133.64 -15.80) scale(0.620)"/><use href="#g51" transform="translate(146.04 -15.80) scale(0.620)"/><use href="#g99" x="174.44" y="0.00"/><use href="#g109" x="192.44" y="0.00"/><use href="#g45" transform="translate(222.44 -15.80) scale(0.620)"/><use href="#g50" transform="translate(238.56 -15.80) scale(0.620)"/></g>
<g transform="translate(176.50 328.70) rotate(28.90) scale(0.4842 0.4714)" stroke="#000" stroke-width="1.50"><use href="#g49" x="0.00" y="0.00"/><use href="#g48" x="20.00" y="0.00"/><use href="#g50" transform="translate(40.00 -15.80) scale(0.620)"/><use href="#g50" transform="translate(52.40 -15.80) scale(0.620)"/><use href="#g99" x="80.80" y="0.00"/><use href="#g109" x="98.80" y="0.00"/><use href="#g45" transform="translate(128.80 -15.80) scale(0.620)"/><use href="#g50" transform="translate(144.92 -15.80) scale(0.620)"/></g>
<g transform="translate(95.10 377.80) rotate(16.15) scale(0.4842 0.4714)" stroke="#000" stroke-width="1.50"><use href="#g49" x="0.00" y="0.00"/><use href="#g48" x="20.00" y="0.00"/><use href="#g50" transform="translate(40.00 -15.80) scale(0.620)"/><use href="#g49" transform="translate(52.40 -15.80) scale(0.620)"/><use href="#g99" x="80.80" y="0.00"/><use href="#g109" x="98.80" y="0.00"/><use href="#g45" transform="translate(128.80 -15.80) scale(0.620)"/><use href="#g50" transform="translate(144.92 -15.80) scale(0.620)"/></g>
<g transform="translate(502.20 392.90) rotate(0.00) scale(0.4329 0.4286)" stroke="#ff2000" stroke-width="1.75"><use href="#g915" x="0.00" y="0.00"/><use href="#g61" x="17.00" y="0.00"/><use href="#g49" x="43.00" y="0.00"/><use href="#g46" x="63.00" y="0.00"/><use href="#g53" x="73.00" y="0.00"/><use href="#g85" x="109.00" y="0.00"/><use href="#g110" x="131.00" y="0.00"/><use href="#g97" x="150.00" y="0.00"/><use href="#g98" x="169.00" y="0.00"/><use href="#g115" x="188.00" y="0.00"/><use href="#g111" x="205.00" y="0.00"/><use href="#g114" x="224.00" y="0.00"/><use href="#g98" x="237.00" y="0.00"/><use href="#g101" x="256.00" y="0.00"/><use href="#g100" x="274.00" y="0.00"/></g>
</g>
</svg>
</body></html>
